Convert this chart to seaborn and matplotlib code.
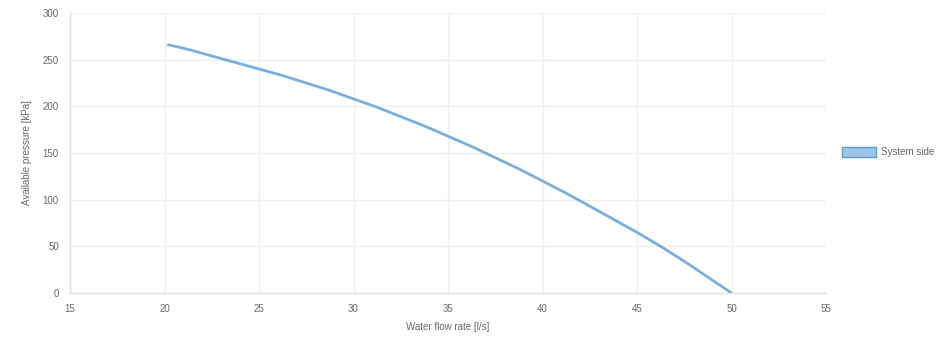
import matplotlib
matplotlib.use("Agg")
import matplotlib.pyplot as plt
import numpy as np
import pandas as pd
import seaborn as sns
from matplotlib.patches import Patch

# values
flow = [20.2, 21.25, 22.5, 23.75, 25, 26.25, 27.5, 28.75, 30, 31.25, 32.5,
        33.75, 35, 36.25, 37.5, 38.75, 40, 41.25, 42.5, 43.75, 45, 46.25,
        47.5, 48.75, 50]
pressure = [266, 261, 254, 247, 240, 233, 225, 217, 208, 199, 189,
            179, 168, 157, 145, 133, 120, 107, 93, 79, 65, 50,
            34, 17, 0]
series_name = "System side"

x_ticks = [15, 20, 25, 30, 35, 40, 45, 50, 55]
y_ticks = [0, 50, 100, 150, 200, 250, 300]

df = pd.DataFrame({"flow": flow, "pressure": pressure})

sns.set_theme(style="white")
plt.rcParams["font.family"] = ["Liberation Sans", "DejaVu Sans"]

fig = plt.figure(figsize=(9.52, 3.52), dpi=100)
ax = fig.add_axes([70 / 952, 59 / 352, 756 / 952, 280 / 352])

line_color = "#7aaedb"
sns.lineplot(data=df, x="flow", y="pressure", ax=ax, color=line_color,
             linewidth=2.0, legend=False)

ax.set_xlim(15, 55)
ax.set_ylim(0, 300)
ax.set_xticks(x_ticks)
ax.set_yticks(y_ticks)
ax.grid(True, color="#efefef", linewidth=1)
for s in ["top", "right"]:
    ax.spines[s].set_visible(False)
for s in ["left", "bottom"]:
    ax.spines[s].set_color("#e0e0e0")
    ax.spines[s].set_linewidth(1)
ax.tick_params(axis="both", labelsize=7, colors="#666666", length=5,
               color="#e6e6e6", width=1, pad=3)
ax.set_xlabel("Water flow rate [l/s]", fontsize=7, color="#666666", labelpad=6)
ax.set_ylabel("Available pressure [kPa]", fontsize=7, color="#666666", labelpad=8)

handle = Patch(facecolor="#9ec5e8", edgecolor="#5b9bd5", linewidth=1)
fig.legend([handle], [series_name], loc="center left",
           bbox_to_anchor=(833 / 952, 1 - 152 / 352), frameon=False,
           fontsize=7, handlelength=3.5, handleheight=1.2, handletextpad=0.5,
           labelcolor="#666666")

fig.savefig("out.png", dpi=100)
